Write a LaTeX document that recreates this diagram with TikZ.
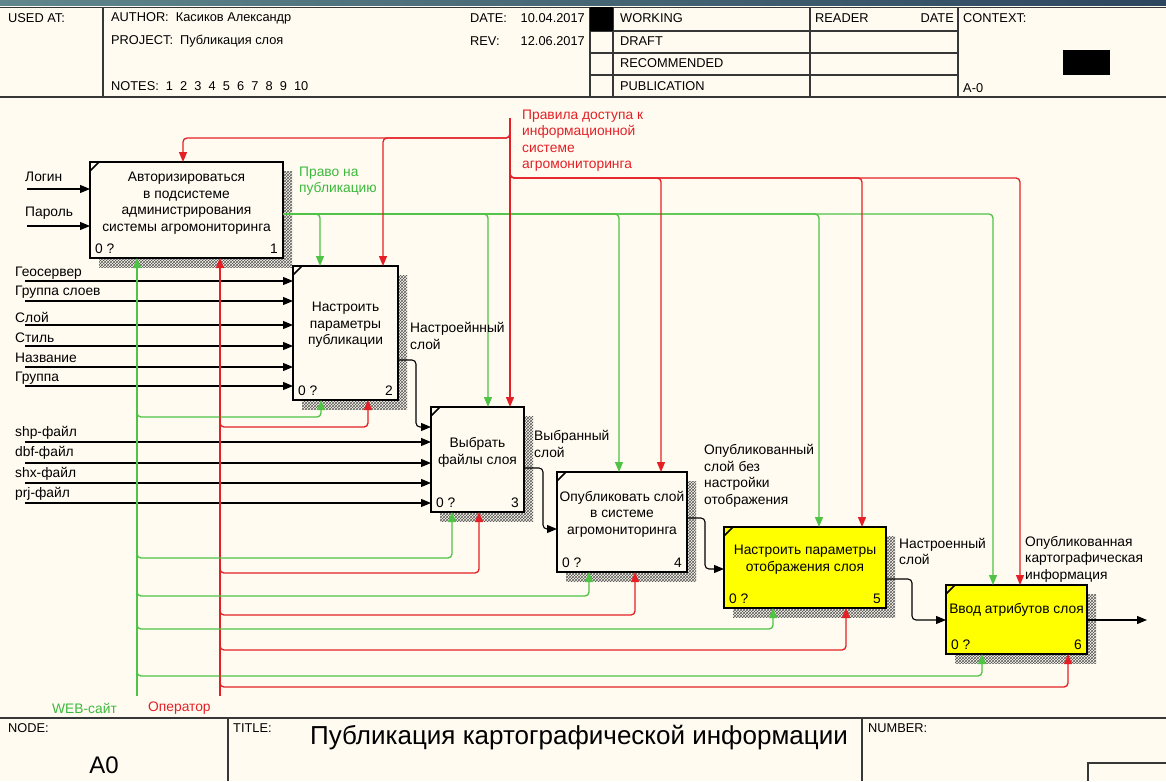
\documentclass[tikz,border=0pt]{standalone}
\usepackage{fontspec}
\setmainfont{Liberation Sans}
\usetikzlibrary{arrows.meta,patterns,shadows}
\definecolor{bg}{RGB}{255,251,241}
\definecolor{gline}{RGB}{80,195,70}
\definecolor{gtext}{RGB}{60,185,60}
\definecolor{rline}{RGB}{228,32,38}
\definecolor{ybox}{RGB}{255,255,0}
\definecolor{frmc}{RGB}{55,55,55}
\definecolor{topA}{RGB}{95,135,140}
\definecolor{topB}{RGB}{45,70,95}
\newcommand{\bxfont}{\fontsize{13.8}{16.5}\selectfont}
\newcommand{\hdrfont}{\fontsize{12.8}{14}\selectfont}
\begin{document}
\begin{tikzpicture}[x=1pt,y=-1pt,
  frm/.style={draw=frmc, line width=1.1pt},
  box/.style={draw=black, line width=2.4pt, fill=bg, inner sep=0pt, outer sep=0pt, anchor=north west,
    general shadow={shadow xshift=9pt, shadow yshift=-9pt, pattern=crosshatch, pattern color=black!65}},
  ybx/.style={box, fill=ybox},
  btext/.style={font=\bxfont, align=center, inner sep=0pt},
  num/.style={font=\bxfont, inner sep=0pt},
  lbl/.style={font=\bxfont, align=left, inner sep=0pt, anchor=west},
  htxt/.style={font=\hdrfont, inner sep=0pt, anchor=west},
  ahead/.style={-{Triangle[length=10pt,width=8pt]}},
  barr/.style={draw=black, line width=1.1pt, ahead, rounded corners=4pt},
  garr/.style={draw=gline, line width=1.3pt, ahead, rounded corners=4pt},
  rarr/.style={draw=rline, line width=1.3pt, ahead, rounded corners=4pt},
  cmark/.style={draw=black, line width=1.6pt}
]
\fill[bg] (0,0) rectangle (1166,781);
\useasboundingbox (0,0) rectangle (1166,781);
\fill[left color=topA, right color=topB] (0,0) rectangle (1166,6);

% ---------- header ----------
\draw[frm] (0,7.5) -- (1166,7.5);
\draw[frm, line width=1.8pt] (0,97) -- (1166,97);
\foreach \x in {103,590,613,810,958} \draw[frm] (\x,7.5) -- (\x,97);
\foreach \y in {31,53,75} \draw[frm] (590,\y) -- (958,\y);
\fill (590,7.5) rectangle (613,31);
\fill (1063,50) rectangle (1110,75);
\node[htxt] (hused) at (8,18) {USED AT:};
\node[htxt] (hauth) at (111,18) {AUTHOR:\ \ Касиков Александр};
\node[htxt] (hproj) at (111,41) {PROJECT:\ \ Публикация слоя};
\node[htxt] (hnotes) at (111,86) {NOTES:\ \ 1\ \ 2\ \ 3\ \ 4\ \ 5\ \ 6\ \ 7\ \ 8\ \ 9\ \ 10};
\node[htxt] (hdate) at (470,18) {DATE:};
\node[htxt, anchor=east] (hdatev) at (585,18) {10.04.2017};
\node[htxt] (hrev) at (470,41) {REV:};
\node[htxt, anchor=east] (hrevv) at (585,41) {12.06.2017};
\node[htxt] (hwork) at (620,18) {WORKING};
\node[htxt] (hdraft) at (620,41) {DRAFT};
\node[htxt] (hrec) at (620,63) {RECOMMENDED};
\node[htxt] (hpub) at (620,86) {PUBLICATION};
\node[htxt] (hread) at (815,18) {READER};
\node[htxt, anchor=east] (hrdate) at (954,18) {DATE};
\node[htxt] (hctx) at (963,18) {CONTEXT:};
\node[htxt] (ha0) at (963,88) {A-0};

% ---------- footer ----------
\draw[frm, line width=1.8pt] (0,718) -- (1166,718);
\draw[frm] (228,718) -- (228,781);
\draw[frm] (862,718) -- (862,781);
\draw[frm] (1088,781) -- (1088,763) -- (1166,763);
\node[htxt] (fnode) at (8,728) {NODE:};
\node[htxt] (ftitle) at (233,728) {TITLE:};
\node[htxt] (fnum) at (868,728) {NUMBER:};
\node[inner sep=0pt, font=\fontsize{24}{26}\selectfont] (fa0) at (104,765) {A0};
\node[inner sep=0pt, anchor=west, font=\fontsize{26}{30}\selectfont] (fttl) at (310,738) {Публикация картографической информации};

% ---------- boxes ----------
\node[box, minimum width=193pt, minimum height=96pt] (b1) at (90,162) {};
\node[box, minimum width=105pt, minimum height=134pt] (b2) at (293,266) {};
\node[box, minimum width=93pt, minimum height=105pt] (b3) at (431,407) {};
\node[box, minimum width=130pt, minimum height=100pt] (b4) at (557,472) {};
\node[ybx, minimum width=162pt, minimum height=81pt] (b5) at (724,527) {};
\node[ybx, minimum width=141pt, minimum height=69pt] (b6) at (946,585) {};

\foreach \b in {b1,b2,b3,b4,b5,b6}
  \draw[cmark] ([yshift=-9pt]\b.north west) -- ([xshift=9pt]\b.north west);

\node[btext] (t1) at ([yshift=7pt]b1.center) {Авторизироваться\\в подсистеме\\администрирования\\системы агромониторинга};
\node[btext] (t2) at ([yshift=8pt]b2.center) {Настроить\\параметры\\публикации};
\node[btext] (t3) at ([yshift=7pt]b3.center) {Выбрать\\файлы слоя};
\node[btext] (t4) at ([yshift=8pt]b4.center) {Опубликовать слой\\в системе\\агромониторинга};
\node[btext] (t5) at ([yshift=8pt]b5.center) {Настроить параметры\\отображения слоя};
\node[btext] (t6) at ([yshift=10pt]b6.center) {Ввод атрибутов слоя};

\foreach \b/\n in {b1/1,b2/2,b3/3,b4/4,b5/5,b6/6}{
  \node[num, anchor=south west] (\b q) at ([xshift=5pt,yshift=4pt]\b.south west) {0 ?};
  \node[num, anchor=south east] (\b n) at ([xshift=-5pt,yshift=4pt]\b.south east) {\n};
}

% ---------- black inputs ----------
\coordinate (iLog) at (27,189);
\coordinate (iPas) at (27,226);
\draw[barr] (iLog) -- (iLog -| b1.west);
\draw[barr] (iPas) -- (iPas -| b1.west);
\node[lbl] (lLog) at (25,177) {Логин};
\node[lbl] (lPas) at (25,213) {Пароль};

\foreach \y/\t/\ly [count=\i] in {281/Геосервер/273, 301/Группа слоев/292, 325/Слой/317, 346/Стиль/338, 367/Название/358, 386/Группа/378}{
  \coordinate (iB\i) at (25,\y);
  \draw[barr] (iB\i) -- (iB\i -| b2.west);
  \node[lbl] (lB\i) at (15,\ly) {\t};
}
\foreach \y/\t/\ly [count=\i] in {442/shp-файл/433, 463/dbf-файл/453, 483/shx-файл/474, 503/prj-файл/494}{
  \coordinate (iC\i) at (25,\y);
  \draw[barr] (iC\i) -- (iC\i -| b3.west);
  \node[lbl] (lC\i) at (15,\ly) {\t};
}

% ---------- black flows ----------
\draw[barr] (b2.east |- 0,360) -- (416,360) -- (416,427) -- (b3.west |- 0,427);
\draw[barr] (b3.east |- 0,468) -- (543,468) -- (543,529) -- (b4.west |- 0,529);
\draw[barr] (b4.east |- 0,518) -- (705,518) -- (705,569) -- (b5.west |- 0,569);
\draw[barr] (b5.east |- 0,579) -- (912,579) -- (912,620) -- (b6.west |- 0,620);
\coordinate (outEnd) at (1147,620);
\draw[barr] (b6.east |- outEnd) -- (outEnd);

% ---------- green control from box 1 ----------
\foreach \x/\b in {320/b2,488/b3,619/b4,819/b5,993/b6}
  \draw[garr] (b1.east |- 0,214) -- (\x,214) -- (\b.north -| \x,0);

% ---------- red control (rules) ----------
\draw[rarr, rounded corners=0pt] (510,118) -- (b3.north -| 510,0);
\foreach \x/\b in {183/b1,383/b2}
  \draw[rarr] (510,126) -- (510,138) -- (\x,138) -- (\b.north -| \x,0);
\foreach \x/\b in {661/b4,862/b5,1020/b6}
  \draw[rarr] (510,166) -- (510,178) -- (\x,178) -- (\b.north -| \x,0);

% ---------- mechanisms ----------
\draw[garr] (137,696) -- (b1.south -| 137,0);
\draw[rarr] (220,696) -- (b1.south -| 220,0);
\foreach \y/\x/\b in {417/321/b2,558/452/b3,596/589/b4,629/773/b5,676/982/b6}
  \draw[garr] (137,\y-12) -- (137,\y) -- (\x,\y) -- (\b.south -| \x,0);
\foreach \y/\x/\b in {427/368/b2,573/479/b3,615/635/b4,650/846/b5,687/1068/b6}
  \draw[rarr] (220,\y-12) -- (220,\y) -- (\x,\y) -- (\b.south -| \x,0);

% ---------- arrow labels ----------
\node[lbl, text=gtext] (lPravo) at (299,181) {Право на\\публикацию};
\node[lbl, text=rline] (lRules) at (522,140.5) {Правила доступа к\\информационной\\системе\\агромониторинга};
\node[lbl] (lO2) at (410,336) {Настроейнный\\слой};
\node[lbl] (lO3) at (534,444) {Выбранный\\слой};
\node[lbl] (lO4) at (704,476) {Опубликованный\\слой без\\настройки\\отображения};
\node[lbl] (lO5) at (899,551.5) {Настроенный\\слой};
\node[lbl] (lO6) at (1025,559) {Опубликованная\\картографическая\\информация};
\node[lbl, text=gtext] (lWeb) at (52,708) {WEB-сайт};
\node[lbl, text=rline] (lOp) at (148,708) {Оператор};
\end{tikzpicture}
\end{document}
